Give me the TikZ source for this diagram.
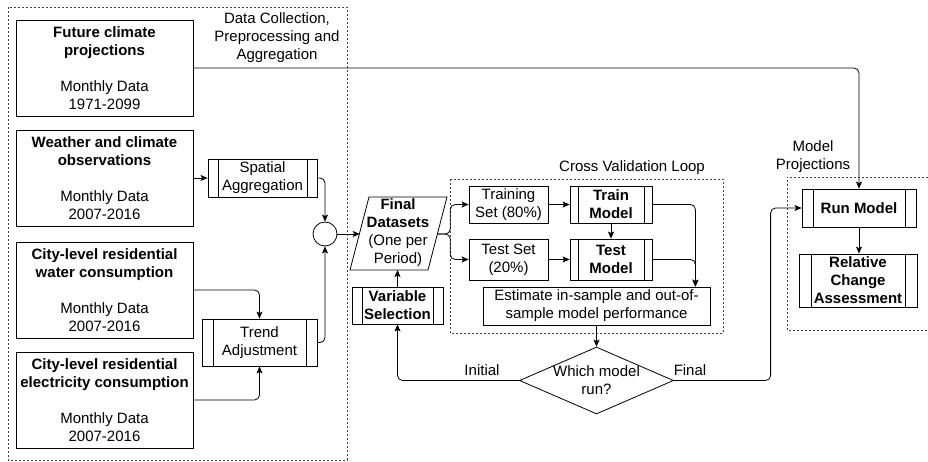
\documentclass[tikz,border=0pt]{standalone}
\usepackage{fontspec}
\setmainfont{Liberation Sans}
\usetikzlibrary{arrows.meta,shapes.geometric}
\begin{document}
\begin{tikzpicture}[x=1pt,y=-1pt,
  every node/.style={font=\fontsize{15}{18}\selectfont, inner sep=0pt, align=center},
  box/.style={draw, line width=0.8pt, rectangle},
  proc/.style={box, path picture={
    \draw[line width=0.8pt] ([xshift=#1]path picture bounding box.north west) -- ([xshift=#1]path picture bounding box.south west);
    \draw[line width=0.8pt] ([xshift=-#1]path picture bounding box.north east) -- ([xshift=-#1]path picture bounding box.south east);}},
  proc/.default=10pt,
  arr/.style={line width=0.8pt, -{Stealth[length=7pt,width=6pt,inset=1.5pt]}, rounded corners=5pt},
  grp/.style={line width=0.7pt, dash pattern=on 2pt off 2pt, draw=black!75},
  lbl/.style={font=\fontsize{15}{18}\selectfont}
]
\fill[white] (0,0) rectangle (928,462);
\useasboundingbox (0,0) rectangle (928,462);

% group boxes
\draw[grp] (8,7) rectangle (347,460);
\draw[grp] (450,179) rectangle (723,333);
\draw[grp] (928,177) -- (787,177) -- (787,330) -- (928,330);

\node[lbl] (gl1) at (277,37.5) {Data Collection,\\Preprocessing and\\Aggregation};
\node[lbl] (gl2) at (632,168) {Cross Validation Loop};
\node[lbl] (gl3) at (813,156.5) {Model\\Projections};

% data sources
\node[box, minimum width=177pt, minimum height=96pt] (fut) at (104.5,68)
  {\textbf{Future climate}\\\textbf{projections}\\[18pt]Monthly Data\\1971-2099};
\node[box, minimum width=177pt, minimum height=96pt] (wea) at (104.5,178)
  {\textbf{Weather and climate}\\\textbf{observations}\\[18pt]Monthly Data\\2007-2016};
\node[box, minimum width=177pt, minimum height=96pt] (wat) at (104.5,290)
  {\textbf{City-level residential}\\\textbf{water consumption}\\[18pt]Monthly Data\\2007-2016};
\node[box, minimum width=177pt, minimum height=96pt] (ele) at (104.5,400)
  {\textbf{City-level residential}\\\textbf{electricity consumption}\\[18pt]Monthly Data\\2007-2016};

\node[proc=10pt, minimum width=109pt, minimum height=38pt] (spa) at (262.5,178) {Spatial\\Aggregation};
\node[proc=11pt, minimum width=115pt, minimum height=47pt] (trd) at (259.5,342.5) {Trend\\Adjustment};
\node[draw, line width=0.8pt, circle, minimum size=24pt] (circ) at (325,234) {};

% final datasets (parallelogram)
\draw[line width=0.8pt] (369,197) -- (447,197) -- (428,270) -- (350,270) -- cycle;
\node (fd) at (398,233) {\textbf{Final}\\\textbf{Datasets}\\(One per\\Period)};
\coordinate (fdL) at (359.7,234);
\coordinate (fdR) at (437.3,234);
\coordinate (fdB) at (397.5,270);

\node[proc=10pt, minimum width=91pt, minimum height=37pt] (var) at (397.5,305.5) {\textbf{Variable}\\\textbf{Selection}};

% cross validation
\node[box, minimum width=79pt, minimum height=37pt] (trs) at (508.5,204.5) {Training\\Set (80\%)};
\node[box, minimum width=79pt, minimum height=41pt] (tss) at (508.5,259.5) {Test Set\\(20\%)};
\node[proc=8pt, minimum width=82pt, minimum height=37pt] (trm) at (611,204.5) {\textbf{Train}\\\textbf{Model}};
\node[proc=8pt, minimum width=82pt, minimum height=41pt] (tsm) at (611,259.5) {\textbf{Test}\\\textbf{Model}};
\node[box, minimum width=227pt, minimum height=38pt] (est) at (596.5,306) {Estimate in-sample and out-of-\\sample model performance};

% decision
\node[draw, line width=0.8pt, diamond, minimum width=154pt, minimum height=67pt] (dia) at (596.5,380.5) {};
\node (diat) at (596.5,380.5) {Which model\\run?};
\node (lini) at (482,370) {Initial};
\node (lfin) at (690,370) {Final};

% projections
\node[proc=11pt, minimum width=114pt, minimum height=38pt] (run) at (859,208) {\textbf{Run Model}};
\node[proc=12pt, minimum width=118pt, minimum height=53pt] (rel) at (858,280.5) {\textbf{Relative}\\\textbf{Change}\\\textbf{Assessment}};

% connectors
\draw[arr] (fut.east) -| (run.north);
\draw[arr] (wea.east) -- (spa.west);
\draw[arr] (spa.east) -| (circ.north);
\draw[arr] (wat.east) -| (trd.north);
\draw[arr] (ele.east) -| (trd.south);
\draw[arr] (trd.east) -| (circ.south);
\draw[arr] (circ.east) -- (fdL);
\draw[arr] (fdR) -- ++(13,0) |- (trs.west);
\draw[arr] (fdR) -- ++(13,0) |- (tss.west);
\draw[arr] (trs.east) -- (trm.west);
\draw[arr] (tss.east) -- (tsm.west);
\draw[arr] (trm.south) -- (tsm.north);
\draw[arr] (trm.east) -| ([xshift=-15pt]est.north east);
\draw[arr] (tsm.east) -| ([xshift=-15pt]est.north east);
\draw[arr] (var.north) -- (fdB);
\draw[arr] (est.south) -- (dia.north);
\draw[arr] (dia.west) -| (var.south);
\draw[arr] (dia.east) -| ([xshift=-31pt]run.west) -- (run.west);
\draw[arr] (run.south) -- (run.south |- rel.north);
\end{tikzpicture}
\end{document}
